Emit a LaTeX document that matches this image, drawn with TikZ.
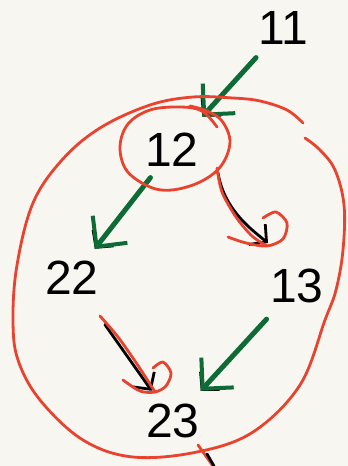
\documentclass[tikz,border=0pt]{standalone}
\usepackage{fontspec}
\setmainfont{Liberation Sans}
\usetikzlibrary{arrows.meta,calc}
\definecolor{paper}{HTML}{F8F6F1}
\definecolor{inkred}{HTML}{E8432F}
\definecolor{inkgreen}{HTML}{0E6B35}
\begin{document}
\begin{tikzpicture}[x=1pt,y=-1pt,
  num/.style={font=\fontsize{48}{48}\selectfont, inner sep=0pt},
  blk/.style={black, line width=2.8pt, line cap=round, line join=round},
  blkarrow/.style={blk, -{Straight Barb[length=12pt,width=26pt,line width=2.8pt]}},
  grn/.style={inkgreen, line width=5pt, line cap=round, line join=round,
    -{Straight Barb[length=22pt,width=44pt,line width=4pt]}},
  redpen/.style={inkred, line width=2.8pt, line cap=round, line join=round}]
\fill[paper] (0,0) rectangle (348,466);
\useasboundingbox (0,0) rectangle (348,466);

% numbers
\node[num] (n11) at (283,28) {11};
\node[num] (n12) at (172,150) {12};
\node[num] (n22) at (72,278) {22};
\node[num] (n13) at (297,286) {13};
\node[num] (n23) at (173,421) {23};

% 11 -> 12
\draw[blkarrow, shorten <=40pt, shorten >=45pt] (n11.center) -- (n12.center);
\draw[grn, shorten <=40pt, shorten >=45pt] (n11.center) -- (n12.center);
% 12 -> 22
\draw[blkarrow, shorten <=35pt, shorten >=37pt] (n12.center) -- (n22.center);
\draw[grn, shorten <=35pt, shorten >=37pt] (n12.center) -- (n22.center);
% 13 -> 23
\draw[blkarrow, shorten <=45pt, shorten >=41pt] (n13.center) -- (n23.center);
\draw[grn, shorten <=45pt, shorten >=41pt] (n13.center) -- (n23.center);
% 22 -> 23
\draw[blkarrow, shorten <=57pt, shorten >=37pt] (n22.center) -- (n23.center);
% 12 -> 13 (curved)
\draw[blkarrow] ([shift={(46,23)}]n12.center) .. controls +(6,35) and +(-20,-16) .. ([shift={(-29,-43)}]n13.center);

% red ellipse around 12
\draw[redpen] plot[smooth, tension=0.6] coordinates {(217,127) (202,111) (180,107) (150,110) (128,124) (120,147) (127,171) (150,187) (172,190) (200,182) (221,166) (230,142) (222,121) (207,111) (190,106)};

% red overlay 12 -> 13
\draw[redpen] plot[smooth] coordinates {(217,168) (222,192) (236,217) (252,236) (267,246)};
\draw[redpen] plot[smooth] coordinates {(263,218) (276,212) (287,223) (283,239) (267,246) (246,243) (228,237)};

% red overlay 22 -> 23
\draw[redpen] plot[smooth] coordinates {(100,316) (118,337) (137,364) (155,392)};
\draw[redpen] plot[smooth] coordinates {(153,368) (163,362) (171,373) (166,386) (155,392) (140,391) (123,380)};

% big red loop
\draw[redpen] plot[smooth, tension=0.6] coordinates {(303,123) (287,110) (260,101) (233,98) (193,97) (150,105) (100,128) (62,160) (33,203) (17,265) (13,320) (18,360) (40,400) (83,440) (133,457) (197,452) (253,432) (300,385) (325,320) (336,290) (343,250) (344,205) (335,170) (320,150) (305,138)};

% bottom tail
\draw[redpen] (198,445) -- (213,466);
\draw[blk] (207,454) -- (214,466);
\end{tikzpicture}
\end{document}
